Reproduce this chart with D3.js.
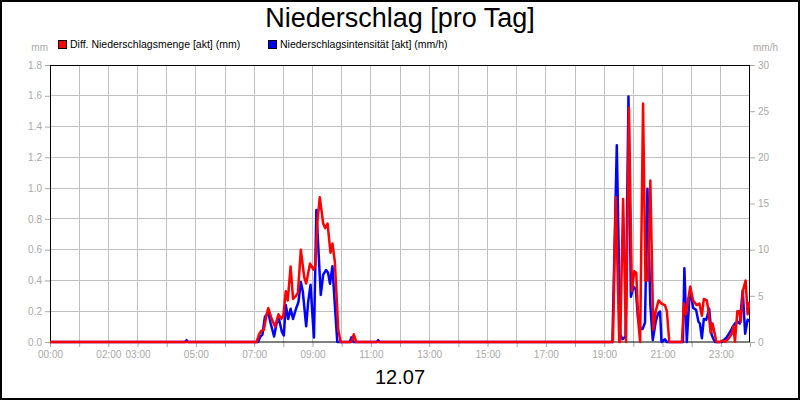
<!DOCTYPE html>
<html>
<head>
<meta charset="utf-8">
<script src="https://cdn.jsdelivr.net/npm/d3@7"></script>
<style>
  body { margin: 0; background: #fff; }
  svg { display: block; font-family: Arial, "Liberation Sans", sans-serif; }
</style>
</head>
<body>
<div id="chart"></div>
<script>
// Niederschlag 12.07
const chartTitle = 'Niederschlag [pro Tag]';
const dayLabel = '12.07';

// red series, left axis (mm)
const mengeTimes = ['00:00', '07:05', '07:10', '07:14', '07:20', '07:25', '07:29', '07:36', '07:43', '07:50', '07:56',
    '08:00', '08:05', '08:09', '08:15', '08:20', '08:26', '08:30', '08:36', '08:43', '08:47', '08:55',
    '09:02', '09:06', '09:10', '09:15', '09:22', '09:26', '09:31', '09:37', '09:41', '09:46', '09:53', '09:58',
    '10:20', '10:25', '10:30',
    '19:18', '19:24', '19:31', '19:33', '19:39', '19:45', '19:51', '19:57', '20:02', '20:06', '20:10', '20:14',
    '20:20', '20:25', '20:30', '20:35', '20:41', '20:46', '20:52', '20:58', '21:05', '21:09', '21:14',
    '21:40', '21:44', '21:48', '21:57', '22:03', '22:10', '22:16', '22:21', '22:25', '22:31', '22:34', '22:39',
    '22:43', '22:47', '22:51', '22:58', '23:04', '23:09', '23:15', '23:22', '23:26', '23:29', '23:34', '23:38',
    '23:41', '23:46', '23:51', '23:55', '23:59'];
const mengeValues = [0, 0, 0.05, 0.07, 0.08, 0.17, 0.22, 0.15, 0.10, 0.18, 0.15,
    0.17, 0.33, 0.27, 0.49, 0.28, 0.30, 0.32, 0.60, 0.42, 0.38, 0.51,
    0.47, 0.50, 0.78, 0.94, 0.77, 0.74, 0.77, 0.58, 0.64, 0.52, 0.08, 0,
    0, 0.05, 0,
    0, 0.94, 0, 0, 0.93, 0, 1.52, 0.33, 0.46, 0.45, 0.14, 0,
    1.55, 0.40, 0.40, 1.05, 0.08, 0.20, 0.27, 0.25, 0.24, 0.20, 0,
    0, 0.25, 0.18, 0.36, 0.27, 0.24, 0.25, 0.17, 0.28, 0.27, 0.22, 0.06,
    0.12, 0.06, 0, 0, 0.01, 0, 0.02, 0.05, 0.10, 0, 0.20, 0.20,
    0.13, 0.34, 0.40, 0.18, 0.26];

// blue series, right axis (mm/h)
const intensTimes = ['00:00', '04:38', '04:41', '04:44', '07:08', '07:13', '07:17', '07:22', '07:29', '07:34', '07:41',
    '07:46', '07:51', '07:57', '08:01', '08:05', '08:10', '08:15', '08:20', '08:26', '08:31', '08:36',
    '08:40', '08:47', '08:51', '08:56', '09:00', '09:03', '09:08', '09:17', '09:22', '09:28', '09:32',
    '09:36', '09:41', '09:46', '09:51', '10:17', '10:20', '10:24', '11:12', '11:15', '11:18',
    '19:17', '19:26', '19:33', '19:38', '19:44', '19:50', '19:55', '20:00', '20:05', '20:10', '20:14',
    '20:19', '20:24', '20:29', '20:35', '20:40', '20:46', '20:51', '20:55', '20:58', '21:05', '21:09',
    '21:42', '21:45', '21:50', '21:55', '21:59', '22:03', '22:09', '22:14', '22:17', '22:21', '22:25',
    '22:30', '22:36', '22:41', '22:45', '22:48', '23:02', '23:12', '23:19', '23:24', '23:29', '23:34',
    '23:39', '23:45', '23:50', '23:55', '23:59'];
const intensValues = [0, 0, 0.2, 0, 0, 0.6, 0.8, 2.7, 3.2, 2.0, 0.6,
    2.0, 2.5, 1.1, 0.7, 4.0, 2.5, 3.6, 2.5, 3.6, 4.3, 6.5,
    5.5, 1.7, 4.3, 6.2, 2.8, 0.5, 14.3, 5.1, 7.3, 7.8, 7.5,
    6.3, 8.2, 4.0, 0, 0, 0.5, 0, 0, 0.2, 0,
    0, 21.3, 0.8, 0.3, 0.6, 26.6, 4.9, 6.0, 5.7, 2.4, 1.5,
    1.4, 2.1, 16.6, 4.0, 0.2, 2.2, 3.1, 3.3, 0, 0.3, 0,
    0, 8.0, 0, 4.5, 5.1, 3.7, 3.5, 2.2, 2.0, 0.4, 2.5,
    2.4, 3.6, 0.8, 0.3, 0, 0, 0.5, 1.1, 1.6, 2.0, 2.2,
    2.0, 5.6, 0.9, 2.4, 2.3];

const xTickLabels = ['00:00', '02:00', '03:00', '05:00', '07:00', '09:00', '11:00', '13:00', '15:00', '17:00', '19:00', '21:00', '23:00'];
const leftTicks = [0, 0.2, 0.4, 0.6, 0.8, 1.0, 1.2, 1.4, 1.6, 1.8];
const rightTicks = [0, 5, 10, 15, 20, 25, 30];
const legendItems = [
    { label: 'Diff. Niederschlagsmenge [akt] (mm)', color: '#ff0000' },
    { label: 'Niederschlagsintensität [akt] (mm/h)', color: '#0000ff' }
];

const width = 800, height = 400;
const margin = { top: 65, right: 50, bottom: 58, left: 50 };
const gridColor = '#c0c0c0';
const labelColor = '#a8a8a8';

const parseTime = d3.timeParse('%H:%M');
const dayStart = parseTime('00:00');
const dayEnd = d3.timeDay.offset(dayStart, 1);

const svg = d3.select('#chart').append('svg')
    .attr('width', width)
    .attr('height', height);

svg.append('rect')
    .attr('width', width).attr('height', height)
    .attr('fill', '#fff');

const x = d3.scaleTime()
    .domain([dayStart, dayEnd])
    .range([margin.left, width - margin.right]);
const yLeft = d3.scaleLinear()
    .domain([0, 1.8])
    .range([height - margin.bottom, margin.top]);
const yRight = d3.scaleLinear()
    .domain([0, 30])
    .range([height - margin.bottom, margin.top]);

const hours = d3.timeHour.range(dayStart, dayEnd);

// grid
const grid = svg.append('g');
grid.selectAll('line.v')
    .data(hours.slice(1))
    .enter().append('line')
    .attr('x1', d => x(d)).attr('x2', d => x(d))
    .attr('y1', margin.top).attr('y2', height - margin.bottom)
    .attr('stroke', gridColor)
    .attr('shape-rendering', 'crispEdges');
grid.selectAll('line.h')
    .data(leftTicks.slice(1, -1))
    .enter().append('line')
    .attr('x1', margin.left).attr('x2', width - margin.right)
    .attr('y1', d => yLeft(d)).attr('y2', d => yLeft(d))
    .attr('stroke', gridColor)
    .attr('shape-rendering', 'crispEdges');

// axes
function styleAxis(g) {
    g.select('.domain').remove();
    g.selectAll('.tick line').attr('stroke', labelColor);
    g.selectAll('.tick text')
        .attr('fill', labelColor)
        .style('font-size', '10px')
        .style('font-family', 'Arial, "Liberation Sans", sans-serif');
}

const labelSet = new Set(xTickLabels);
const fmt = d3.timeFormat('%H:%M');
svg.append('g')
    .attr('transform', `translate(0,${height - margin.bottom})`)
    .call(d3.axisBottom(x).tickValues(hours.concat([dayEnd])).tickSize(5).tickPadding(4)
        .tickFormat(d => labelSet.has(fmt(d)) && d < dayEnd ? fmt(d) : ''))
    .call(styleAxis);

svg.append('g')
    .attr('transform', `translate(${margin.left},0)`)
    .call(d3.axisLeft(yLeft).tickValues(leftTicks).tickFormat(d3.format('.1f')).tickSize(5).tickPadding(3))
    .call(styleAxis);

svg.append('g')
    .attr('transform', `translate(${width - margin.right},0)`)
    .call(d3.axisRight(yRight).tickValues(rightTicks).tickSize(5).tickPadding(3))
    .call(styleAxis);

// unit labels
svg.append('text')
    .attr('x', 48).attr('y', 51)
    .attr('text-anchor', 'end')
    .attr('fill', labelColor)
    .style('font-size', '10px')
    .text('mm');
svg.append('text')
    .attr('x', 753).attr('y', 51)
    .attr('fill', labelColor)
    .style('font-size', '10px')
    .text('mm/h');

// data lines
svg.append('clipPath').attr('id', 'plot-clip')
    .append('rect')
    .attr('x', margin.left).attr('y', margin.top - 2)
    .attr('width', width - margin.left - margin.right)
    .attr('height', height - margin.top - margin.bottom + 4);

const intensData = intensTimes.map((t, i) => ({ t: parseTime(t), v: intensValues[i] }));
const mengeData = mengeTimes.map((t, i) => ({ t: parseTime(t), v: mengeValues[i] }));

// plot frame
svg.append('rect')
    .attr('x', margin.left + 0.5).attr('y', margin.top + 0.5)
    .attr('width', width - margin.left - margin.right - 1)
    .attr('height', height - margin.top - margin.bottom - 0.5)
    .attr('fill', 'none')
    .attr('stroke', '#000');

const lines = svg.append('g').attr('clip-path', 'url(#plot-clip)');
lines.append('path')
    .datum(intensData)
    .attr('fill', 'none')
    .attr('stroke', '#0000ff')
    .attr('stroke-width', 2.5)
    .attr('stroke-linejoin', 'round')
    .attr('d', d3.line().x(d => x(d.t)).y(d => yRight(d.v)));
lines.append('path')
    .datum(mengeData)
    .attr('fill', 'none')
    .attr('stroke', '#ff0000')
    .attr('stroke-width', 2.5)
    .attr('stroke-linejoin', 'round')
    .attr('d', d3.line().x(d => x(d.t)).y(d => yLeft(d.v)));

// title
svg.append('text')
    .attr('x', width / 2).attr('y', 27)
    .attr('text-anchor', 'middle')
    .style('font-size', '27px')
    .text(chartTitle);

// legend
const legend = svg.append('g');
const legendX = [58, 268];
legendItems.forEach((item, i) => {
    legend.append('rect')
        .attr('x', legendX[i] + 0.5).attr('y', 40.5)
        .attr('width', 8).attr('height', 8)
        .attr('fill', item.color)
        .attr('stroke', '#000');
    legend.append('text')
        .attr('x', legendX[i] + 12).attr('y', 48)
        .style('font-size', '10.5px')
        .text(item.label);
});

// date label
svg.append('text')
    .attr('x', width / 2).attr('y', 384)
    .attr('text-anchor', 'middle')
    .style('font-size', '20px')
    .text(dayLabel);

// outer frame
svg.append('rect')
    .attr('x', 1).attr('y', 1)
    .attr('width', width - 2).attr('height', height - 2)
    .attr('fill', 'none')
    .attr('stroke', '#000')
    .attr('stroke-width', 2);
</script>
</body>
</html>
